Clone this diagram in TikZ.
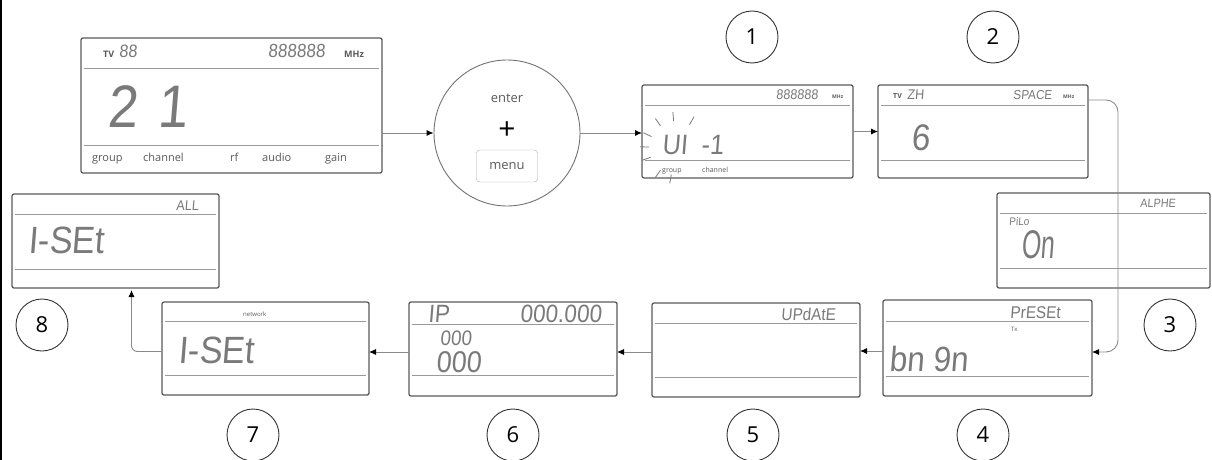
\documentclass[tikz,border=0pt]{standalone}
\usepackage{fontspec}
\setmainfont{Open Sans}
\newfontfamily\segfont[FakeSlant=0.08,FakeStretch=0.9]{Liberation Sans}
\newfontfamily\segnarrow[FakeSlant=0.08,FakeStretch=0.62]{Liberation Sans}
\usetikzlibrary{arrows.meta,calc}
\definecolor{boxc}{HTML}{5A5A5A}
\definecolor{sepc}{HTML}{9A9A9A}
\definecolor{segc}{HTML}{7A7A7A}
\definecolor{linec}{HTML}{8A8A8A}
\tikzset{
 lcd/.style={draw=boxc, line width=1.3pt, rounded corners=2pt, fill=white, inner sep=0pt, outer sep=0pt, anchor=north west},
 sepline/.style={draw=sepc, line width=0.9pt},
 seg/.style={text=segc, inner sep=0pt, anchor=base west},
 lbl/.style={text=boxc, inner sep=0pt, anchor=base west},
 conn/.style={draw=linec, line width=0.9pt, -{Latex[length=7pt,width=6pt,color=black]}},
 num/.style={draw=black!80, circle, line width=0.9pt, minimum size=52pt, inner sep=0pt, font=\fontsize{22}{22}\selectfont},
 ray/.style={draw=segc, line width=0.8pt},
}
\newcommand\sz[1]{\fontsize{#1}{#1}\selectfont}
\newcommand\lcdpanel[7]{%
 \node[lcd, minimum width={(#4-#2)*1pt}, minimum height={(#5-#3)*1pt}] (#1) at (#2,#3) {};
 \draw[sepline] ({#2+3},#6) -- ({#4-3},#6);
 \draw[sepline] ({#2+3},#7) -- ({#4-3},#7);
}
\begin{document}
\begin{tikzpicture}[x=1pt,y=-1pt]
\useasboundingbox (0,0) rectangle (1212,460);
\fill[black] (0,0) rectangle (2,460);

% panel 0
\lcdpanel{L0}{81}{38}{382}{173}{68}{145}
\node[lbl, font=\bfseries\sz{9}] (l0tv) at (103,58) {TV};
\node[seg, font=\segfont\sz{18}] (l0ch) at (119,58) {88};
\node[seg, font=\segfont\sz{19}] (l0fq) at (268,58) {888888};
\node[lbl, font=\bfseries\sz{9}] (l0mhz) at (344,58) {MHz};
\node[seg, font=\segfont\sz{60}] (l0big) at (107,127) {2\kern20pt1};
\node[lbl, font=\sz{11}] (g1) at (92,161) {group};
\node[lbl, font=\sz{11}] (g2) at (143,161) {channel};
\node[lbl, font=\sz{11}] (g3) at (230,161) {rf};
\node[lbl, font=\sz{11}] (g4) at (262,161) {audio};
\node[lbl, font=\sz{11}] (g5) at (325,161) {gain};

% enter + menu
\node[draw=black!55, circle, line width=0.9pt, minimum size=146pt, inner sep=0pt] (C) at (507,133) {};
\node[text=boxc, font=\sz{13}] (ent) at (507,98) {enter};
\node[text=black, font=\sz{30}] (plus) at (507,131) {+};
\node[draw=black!35, rounded corners=3pt, minimum width=61pt, minimum height=32pt, text=boxc, font=\sz{13}, inner sep=0pt] (menu) at (507,166) {menu};

% panel 1
\lcdpanel{L1}{642}{85}{853}{178}{105}{160}
\node[seg, font=\segfont\sz{14}] (l1fq) at (776,99) {888888};
\node[lbl, font=\bfseries\sz{5}] (l1mhz) at (832,98) {MHz};
\node[seg, font=\segfont\sz{28}] (l1a) at (662,154) {UI};
\node[seg, font=\segfont\sz{28}] (l1b) at (701,154) {-1};
\node[lbl, font=\sz{7}] (l1g) at (662,172) {group};
\node[lbl, font=\sz{7}] (l1c) at (702,172) {channel};
\foreach \a in {100,125,160,182,205,235,265,300} \draw[ray] ($(676,148)+(\a:27)$) -- ($(676,148)+(\a:36)$);

% panel 2
\lcdpanel{L2}{878}{85}{1088}{178}{105}{160}
\node[lbl, font=\bfseries\sz{7}] (l2tv) at (893,98) {TV};
\node[seg, font=\segfont\sz{14}] (l2ch) at (907,99) {ZH};
\node[seg, font=\segfont\sz{13}] (l2sp) at (1013,99) {SPACE};
\node[lbl, font=\bfseries\sz{5}] (l2mhz) at (1063,98) {MHz};
\node[seg, font=\segfont\sz{37}] (l2big) at (911,150) {6};

% panel 3
\lcdpanel{L3}{997}{193}{1210}{288}{213}{268}
\node[seg, font=\segfont\sz{12}] (l3t) at (1140,207) {ALPHE};
\node[seg, font=\segfont\sz{11}] (l3p) at (1009,225) {PiLo};
\node[seg, font=\segnarrow\sz{40}] (l3big) at (1021,258) {On};

% panel 4
\lcdpanel{L4}{883}{300}{1092}{396}{321}{376}
\node[seg, font=\segfont\sz{17}] (l4t) at (1010,318) {PrESEt};
\node[lbl, font=\sz{6}] (l4tx) at (1011,331) {Tx};
\node[seg, font=\segfont\sz{35}] (l4big) at (889,371) {bn 9n};

% panel 5
\lcdpanel{L5}{652}{303}{860}{397}{323}{377}
\node[seg, font=\segfont\sz{17}] (l5t) at (781,320) {UPdAtE};

% panel 6
\lcdpanel{L6}{409}{302}{617}{396}{324}{375}
\node[seg, font=\segfont\sz{25}] (l6ip) at (428,322) {IP};
\node[seg, font=\segfont\sz{25}] (l6ad) at (520,322) {000.000};
\node[seg, font=\segfont\sz{21}] (l6a) at (440,345) {000};
\node[seg, font=\segfont\sz{30}] (l6b) at (436,372) {000};

% panel 7
\lcdpanel{L7}{162}{302}{369}{395}{321}{375}
\node[lbl, font=\sz{6}] (l7n) at (243,316) {network};
\node[seg, font=\segfont\sz{38}] (l7big) at (178,363) {I-SEt};

% panel 8
\lcdpanel{L8}{12}{194}{219}{288}{214}{269}
\node[seg, font=\segfont\sz{14}] (l8t) at (176,210) {ALL};
\node[seg, font=\segfont\sz{38}] (l8big) at (28,253) {I-SEt};

% step numbers
\node[num] (n1) at (752,37) {1};
\node[num] (n2) at (993,37) {2};
\node[num] (n3) at (1170,325) {3};
\node[num] (n4) at (983,435) {4};
\node[num] (n5) at (753,435) {5};
\node[num] (n6) at (513,435) {6};
\node[num] (n7) at (253,435) {7};
\node[num] (n8) at (42,325) {8};

% connectors
\draw[conn] (L0.east |- C.west) -- (C.west);
\draw[conn] (C.east) -- (C.east -| L1.west);
\draw[conn] (L1.east) -- (L2.west);
\draw[conn, rounded corners=12pt] ([yshift=-15pt]L2.north east) -| ([xshift=26pt,yshift=-4pt]L4.east) -- ([yshift=-4pt]L4.east);
\draw[conn] ([yshift=-3pt]L4.west) -- ([yshift=-3pt]L4.west -| L5.east);
\draw[conn] ([yshift=-2pt]L5.west) -- ([yshift=-2pt]L5.west -| L6.east);
\draw[conn] ([yshift=-3pt]L6.west) -- ([yshift=-3pt]L6.west -| L7.east);
\draw[conn, rounded corners=6pt] ([yshift=-3pt]L7.west) -| ([xshift=16pt,yshift=-2pt]L8.south);
\end{tikzpicture}
\end{document}
